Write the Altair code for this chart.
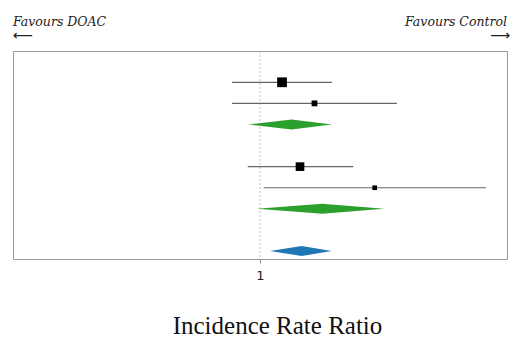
import altair as alt
import pandas as pd

# Study rows (individual estimates)
study_rows = [0, 1, 4, 5]
study_est = [1.228, 1.662, 1.452, 2.913]
study_lo = [0.770, 0.770, 0.892, 1.035]
study_hi = [1.956, 3.587, 2.387, 8.22]
study_weight = [95, 34, 75, 22]

# Pooled estimates (diamonds)
pooled_rows = [2, 6, 8]
pooled_est = [1.344, 1.787, 1.475]
pooled_lo = [0.898, 0.970, 1.098]
pooled_hi = [1.95, 3.186, 1.95]
pooled_kind = ["subgroup", "subgroup", "overall"]

tick_values = [1]
x_domain = [0.1, 10]
y_domain = [-1.484, 8.38]
half_h = 0.24

studies = pd.DataFrame({"row": study_rows, "est": study_est, "lo": study_lo,
                        "hi": study_hi, "w": study_weight})

poly = []
for i, (r, e, l, h, k) in enumerate(zip(pooled_rows, pooled_est, pooled_lo, pooled_hi, pooled_kind)):
    poly.append({"id": i, "kind": k, "xv": l, "ytop": r, "ybot": r})
    poly.append({"id": i, "kind": k, "xv": e, "ytop": r - half_h, "ybot": r + half_h})
    poly.append({"id": i, "kind": k, "xv": h, "ytop": r, "ybot": r})
diamonds = pd.DataFrame(poly)

xs = alt.Scale(type="log", domain=x_domain, nice=False)
ys = alt.Scale(domain=y_domain, reverse=True, nice=False, zero=False)

xaxis = alt.Axis(values=tick_values, title="Incidence Rate Ratio", grid=False, domain=False,
                 labelFont="DejaVu Sans", labelFontSize=13, labelColor="#222",
                 tickColor="#888", tickSize=4, labelPadding=6,
                 titleFont="Liberation Serif", titleFontSize=25, titleFontWeight="normal",
                 titleColor="#111", titleX=264, titleY=74, titleBaseline="alphabetic")

ref = alt.Chart(pd.DataFrame({"v": [1]})).mark_rule(color="#bbb", strokeDash=[2, 2], strokeWidth=1).encode(
    x=alt.X("v:Q", scale=xs, axis=xaxis)
)

ci = alt.Chart(studies).mark_rule(color="#666", strokeWidth=1.2).encode(
    x=alt.X("lo:Q", scale=xs), x2="hi:Q",
    y=alt.Y("row:Q", scale=ys, axis=None)
)

pts = alt.Chart(studies).mark_square(color="black", opacity=1).encode(
    x=alt.X("est:Q", scale=xs),
    y=alt.Y("row:Q", scale=ys, axis=None),
    size=alt.Size("w:Q", scale=None, legend=None)
)

dia = alt.Chart(diamonds).mark_area(opacity=1, interpolate="linear", orient="vertical").encode(
    x=alt.X("xv:Q", scale=xs),
    y=alt.Y("ytop:Q", scale=ys, axis=None, stack=None), y2="ybot:Q",
    detail="id:N",
    color=alt.Color("kind:N", scale=alt.Scale(domain=["subgroup", "overall"], range=["#2ca02c", "#1f77b4"]), legend=None)
)

lbl_font = dict(font="DejaVu Serif", fontStyle="italic", fontSize=12.5, color="#222")
left_t = alt.Chart(pd.DataFrame({"t": ["Favours DOAC"]})).mark_text(align="left", baseline="alphabetic", **lbl_font).encode(
    x=alt.value(0), y=alt.value(-25.5), text="t:N")
right_t = alt.Chart(pd.DataFrame({"t": ["Favours Control"]})).mark_text(align="right", baseline="alphabetic", **lbl_font).encode(
    x=alt.value(494), y=alt.value(-25.5), text="t:N")
left_a = alt.Chart(pd.DataFrame({"t": ["⟵"]})).mark_text(align="left", baseline="middle", font="DejaVu Sans", fontSize=14, color="#222").encode(
    x=alt.value(0), y=alt.value(-15), text="t:N")
right_a = alt.Chart(pd.DataFrame({"t": ["⟶"]})).mark_text(align="right", baseline="middle", font="DejaVu Sans", fontSize=14, color="#222").encode(
    x=alt.value(497), y=alt.value(-15), text="t:N")

chart = alt.layer(ref, ci, dia, pts, left_t, right_t, left_a, right_a).properties(
    width=494, height=208,
    autosize=alt.AutoSizeParams(type="none"),
    padding={"left": 13, "top": 51, "right": 4, "bottom": 78},
    background="white"
).configure_view(stroke="#999", strokeWidth=1)

chart.save("out.html", embed_options={"renderer": "svg", "actions": False})
